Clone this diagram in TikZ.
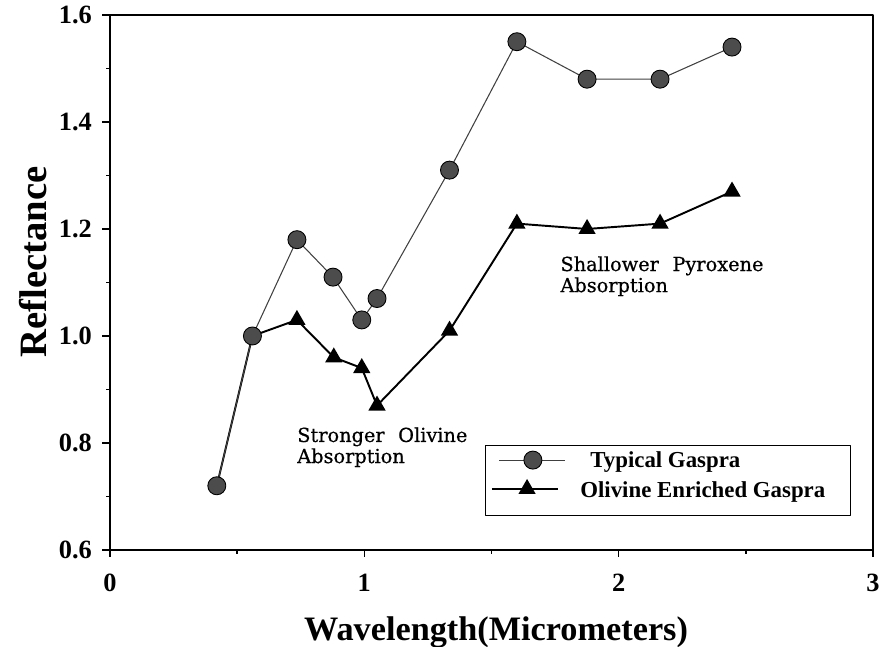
\documentclass[tikz,border=0pt]{standalone}
\usepackage{fontspec}
\setmainfont{Liberation Serif}
\newfontfamily\notefont[FakeBold=0.6]{DejaVu Serif}
\usetikzlibrary{shapes.geometric}

\begin{document}
\begin{tikzpicture}[x=5.086cm, y=10.7cm, line join=round]

  \tikzset{gdot/.style={circle, draw=black, fill=black!70, line width=0.5pt, minimum size=0.36cm, inner sep=0pt},
           otri/.style={regular polygon, regular polygon sides=3, fill=black, minimum size=0.4cm, inner sep=0pt},
           gline/.style={line width=0.6pt, black!75},
           oline/.style={line width=1.1pt},
           ticklab/.style={font=\fontsize{15}{17}\selectfont\bfseries},
           note/.style={font=\notefont\fontsize{11}{12}\selectfont, align=left, inner sep=0pt},
           legtext/.style={font=\fontsize{13}{15}\selectfont\bfseries, anchor=west, inner sep=0pt}}

  \useasboundingbox (-0.4326,0.4187) rectangle (3.0790,1.6280);

  % frame and ticks
  \draw[line width=1.1pt] (0,0.6) rectangle (3,1.6);
  \foreach \y [count=\i] in {0.6,0.8,1.0,1.2,1.4,1.6} {
    \draw[line width=0.9pt] (0,\y) -- ++(-0.16cm,0);
    \node[ticklab, anchor=east] (ylab\i) at ([xshift=-0.24cm]0,\y) {\y};
  }
  \foreach \y in {0.7,0.9,1.1,1.3,1.5}
    \draw[line width=0.9pt] (0,\y) -- ++(-0.08cm,0);
  \foreach \x in {0,1,2,3} {
    \draw[line width=0.9pt] (\x,0.6) -- ++(0,-0.14cm);
    \node[ticklab] (xlab\x) at ([yshift=-0.66cm]\x,0.6) {\x};
  }
  \foreach \x in {0.5,1.5,2.5}
    \draw[line width=0.9pt] (\x,0.6) -- ++(0,-0.08cm);

  \node[font=\fontsize{19.5}{22}\selectfont\bfseries] (xtitle) at (1.518,0.4467) {Wavelength(Micrometers)};
  \node[font=\fontsize{22}{24}\selectfont\bfseries, rotate=90] (ytitle) at (-0.3028,1.138) {Reflectance};

  % the two spectra
  \foreach \x/\y [count=\n] in {0.42/0.72, 0.56/1.00, 0.735/1.18, 0.877/1.11, 0.99/1.03, 1.05/1.07,
                                1.335/1.31, 1.60/1.55, 1.876/1.48, 2.163/1.48, 2.446/1.54}
    \coordinate (g\n) at (\x,\y);
  \foreach \x/\y [count=\n] in {0.42/0.72, 0.56/1.00, 0.735/1.03, 0.88/0.96, 0.99/0.94, 1.05/0.87,
                                1.335/1.01, 1.60/1.21, 1.876/1.20, 2.163/1.21, 2.446/1.27}
    \coordinate (o\n) at (\x,\y);

  \draw[oline] (o1) \foreach \n in {2,...,11} { -- (o\n) };
  \draw[gline] (g1) \foreach \n in {2,...,11} { -- (g\n) };
  \foreach \n in {3,...,11}
    \node[otri] (ot\n) at (o\n) {};
  \foreach \n in {1,...,11}
    \node[gdot] (gd\n) at (g\n) {};

  % notes
  \node[note, anchor=north west] (olnote) at (0.735,0.830) {Stronger\hspace{0.7em}Olivine\\Absorption};
  \node[note, anchor=north west] (pxnote) at (1.770,1.1495) {Shallower\hspace{0.7em}Pyroxene\\Absorption};

  % legend
  \node[draw, line width=0.8pt, anchor=north west, minimum width=7.3cm, minimum height=1.4cm, inner sep=0pt] (legend) at (1.4746,0.7963) {};
  \coordinate (lg1) at (1.530,0.768);
  \coordinate (lg2) at (1.789,0.768);
  \coordinate (lo1) at (1.502,0.714);
  \coordinate (lo2) at (1.762,0.714);
  \draw[gline] (lg1) -- (lg2);
  \draw[oline] (lo1) -- (lo2);
  \node[gdot] (lgdot) at (1.663,0.768) {};
  \node[otri] (lotri) at (1.640,0.714) {};
  \node[legtext] (lgtext) at (1.8875,0.765) {Typical Gaspra};
  \node[legtext] (lotext) at (1.848,0.709) {Olivine Enriched Gaspra};

\end{tikzpicture}
\end{document}
